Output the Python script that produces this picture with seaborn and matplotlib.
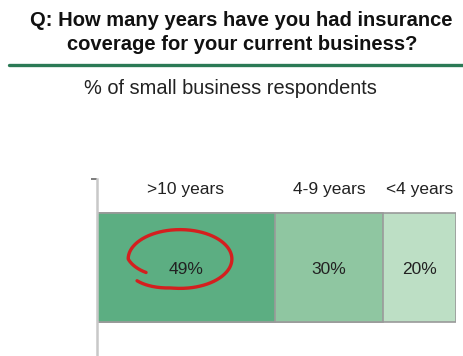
import numpy as np
import pandas as pd
import matplotlib
matplotlib.use("Agg")
import matplotlib.pyplot as plt
from matplotlib.lines import Line2D
import seaborn as sns

sns.set_theme(style="white")
plt.rcParams["font.family"] = ["Liberation Sans", "DejaVu Sans"]

# Survey answers
categories = [">10 years", "4-9 years", "<4 years"]
shares = [49, 30, 20]
bar_colors = ["#5cae82", "#8fc6a1", "#bddfc5"]

title_lines = ["Q: How many years have you had insurance",
               "coverage for your current business?"]
subtitle = "% of small business respondents"

df = pd.DataFrame({"category": categories, "share": shares})
df["end"] = df["share"].cumsum()
df["start"] = df["end"] - df["share"]
df["mid"] = (df["start"] + df["end"]) / 2

W, H = 464, 356
fig = plt.figure(figsize=(W / 100, H / 100), dpi=100)
ax = fig.add_axes([97 / W, 0, (456 - 97) / W, (H - 179) / H])

# Stacked bar: draw cumulative totals from the longest down so each segment shows
for i in reversed(range(len(df))):
    sns.barplot(x=[df["end"].iloc[i]], y=["all"], orient="h", ax=ax,
                color=bar_colors[i], edgecolor="#9a9a9a", linewidth=1.2,
                width=0.62, saturation=1)

ax.set_xlim(0, df["end"].iloc[-1])
ax.set_ylim(0.5, -0.5)
ax.set_xticks([])
ax.set_yticks([-0.5])
ax.set_yticklabels([""])
ax.tick_params(axis="y", length=4, width=1.2, color="#666666", left=True)
ax.set_xlabel("")
ax.set_ylabel("")
for s in ["top", "right", "bottom"]:
    ax.spines[s].set_visible(False)
ax.spines["left"].set_color("#c8c8c8")
ax.spines["left"].set_linewidth(1.8)

# Category labels above segments, values inside
for _, row in df.iterrows():
    ax.text(row["mid"], -0.44, row["category"], ha="center", va="center",
            fontsize=12.5, color="#222222")
    ax.text(row["mid"], 0.01, f"{row['share']}%", ha="center", va="center",
            fontsize=12.5, color="#222222")

# Hand-drawn loop around the leading share
cx, cy = df["mid"].iloc[0] - 1.6, -0.048
rx, ry = 14.3, 0.166
deg = np.linspace(215, -146, 400)
t = np.radians(deg)
r = 0.8 + 0.2 * np.clip((215 - deg) / 35, 0, 1)
drop = 0.03 * np.clip((-100 - deg) / 46, 0, 1)
ax.plot(cx + rx * r * np.cos(t), cy - ry * r * np.sin(t) + drop,
        color="#d41f1f", linewidth=2.4, solid_capstyle="round", clip_on=False)

# Header
fig.text(241 / W, 1 - 21 / H, title_lines[0], ha="center", va="center",
         fontsize=14.5, fontweight="bold", color="#111111")
fig.text(242 / W, 1 - 45 / H, title_lines[1], ha="center", va="center",
         fontsize=14.5, fontweight="bold", color="#111111")
fig.add_artist(Line2D([9 / W, 1], [1 - 65 / H, 1 - 65 / H], transform=fig.transFigure,
                      color="#2b7a55", linewidth=2.4))
fig.text(230 / W, 1 - 89 / H, subtitle, ha="center", va="center",
         fontsize=14.4, color="#222222")

fig.savefig("out.png", dpi=100)
